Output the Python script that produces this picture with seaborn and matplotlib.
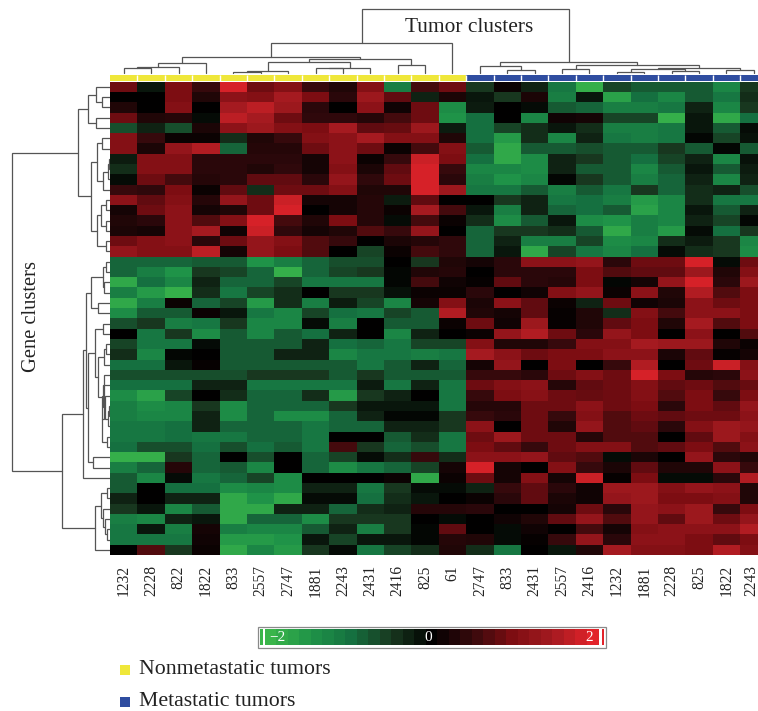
import numpy as np
import matplotlib
matplotlib.use('Agg')
import matplotlib.pyplot as plt
import seaborn as sns
from matplotlib.colors import LinearSegmentedColormap, ListedColormap
from matplotlib.patches import Rectangle
from matplotlib.transforms import ScaledTranslation

# tumour labels, left to right
nonmet_labels = ['1232', '2228', '822', '1822', '833', '2557', '2747', '1881', '2243', '2431', '2416', '825', '61']
met_labels = ['2747', '833', '2431', '2557', '2416', '1232', '1881', '2228', '825', '1822', '2243']

# log ratios, one line per gene
nonmet_values = [
    [0.9, -0.2, 1.0, 0.5, 1.9, 0.9, 1.1, 0.5, 0.3, 1.1, -1.2, 0.6, 0.9],
    [0, 0, 1.0, 0.3, 1.2, 1.1, 1.5, 1.0, 0.4, 1.4, 0.8, -0.3, 0.25],
    [0.3, 0, 1.1, 0, 1.5, 1.7, 1.4, 0.4, 0, 1.2, 0.15, 0.9, -1.4],
    [0.9, 0.3, 0.35, -0.1, 1.7, 1.5, 0.9, 0.45, 0.45, 0.35, 0.6, 0.9, -1.5],
    [-0.7, -0.3, -0.7, 0.25, 1.2, 1.4, 1.1, 1.0, 1.5, 0.8, 0.85, 1.4, -0.25],
    [1.1, 0.5, 0.1, 0.1, -0.4, 0.3, 0.5, 1.1, 1.2, 1.5, 1.1, 1.1, 0.3],
    [1.1, 0.25, 1.3, 1.6, -0.9, 0.35, 0.35, 0.9, 1.2, 0.9, 0.1, 0.6, 1.1],
    [-0.25, 1.1, 1.1, 0.4, 0.4, 0.4, 0.4, 0.2, 1.2, 0.1, 0.5, 1.8, 1.0],
    [-0.4, 1.1, 1.1, 0.4, 0.4, 0.3, 0.45, 0.2, 1.1, 0.25, 0.8, 1.9, 0.5],
    [-0.1, 0.9, 0.6, 0.35, 0.4, 0.8, 0.8, 0.4, 1.3, 0.45, 0.9, 1.9, 0.4],
    [0.5, 0.45, 1.0, 0.1, 0.8, -0.4, 0.9, 0.9, 1.1, 0.3, 0.3, 1.9, 1.4],
    [1.2, 0.8, 1.1, 0.35, 1.3, 0.9, 1.8, 0.2, 0.2, 0.35, -0.25, 0.8, 0],
    [0.2, 0.9, 1.2, 0.2, 0.3, 0.9, 1.9, 0, 0.2, 0.35, 0.1, 1.5, 0.6],
    [0.3, 0.4, 1.2, 0.7, 1.1, 1.9, 0.6, 0.3, 1.0, 0.35, -0.1, 0.6, 0.1],
    [0.25, 0.2, 1.2, 1.5, 0.15, 1.8, 0.45, 0.2, 0.3, 0.7, 0.5, 1.3, 0],
    [0.9, 1.1, 1.2, 0.4, 0.9, 1.3, 1.1, 0.7, 0.5, 0, 0.25, 0.35, 0.45],
    [1.3, 1.1, 1.1, 1.7, 0.2, 1.3, 1.0, 0.7, 0, -0.6, 0.1, 0.6, 0.45],
    [-0.9, -0.9, -0.9, -0.8, -0.8, -1.5, -1.2, -0.9, -0.7, -0.7, 0, -0.5, 0.3],
    [-0.9, -1.2, -1.5, -0.5, -0.6, -0.9, -1.9, -0.9, -0.6, -0.5, -0.05, 0.3, 0.35],
    [-1.8, -1.0, -1.3, -0.3, -0.9, -0.9, -0.6, -1.1, -1.1, -1.1, -0.05, 0.6, 0.15],
    [-1.2, -1.6, -1.9, -0.4, -1.1, -0.6, -0.4, 0, -0.5, -0.5, -0.15, 0.1, 0.1],
    [-1.8, -1.2, 0.1, -0.9, -0.6, -1.6, -0.4, -1.2, -0.25, -0.6, -1.3, 0.2, 1.1],
    [-1.4, -0.8, -0.8, 0.1, -0.2, -1.1, -1.3, -0.6, -1.0, -1.1, -0.6, -0.8, 1.6],
    [-0.7, -0.5, -1.2, -1.1, -0.5, -1.3, -1.3, -0.1, -1.2, 0, -0.8, -0.8, 0.1],
    [0, -1.1, -0.5, -1.4, -0.8, -1.3, -0.8, -1.0, -0.3, 0, -1.3, -0.3, 0],
    [-0.6, -1.1, -1.1, -0.1, -0.8, -0.8, -0.8, -0.3, -1.0, -0.9, -1.1, -0.6, -0.6],
    [-0.4, -1.3, -0.05, 0, -0.8, -0.8, -0.3, -0.3, -1.3, -1.1, -1.1, -1.2, -1.1],
    [-1.0, -1.0, -0.2, 0.05, -0.8, -0.8, -0.8, -0.8, -0.8, -1.1, -0.8, -0.3, -0.9],
    [-0.7, -0.7, -0.7, -0.7, -0.7, -0.5, -0.5, -0.5, -0.8, -0.5, -0.8, -0.8, -0.8],
    [-1.0, -1.0, -1.0, -0.3, -0.3, -1.1, -1.1, -1.1, -1.1, -0.25, -1.1, -0.3, -1.1],
    [-1.4, -1.7, -0.6, 0, -0.4, -0.9, -0.9, -0.4, -1.6, -0.5, -0.3, 0, -1.1],
    [-1.2, -1.4, -1.3, -0.5, -1.4, -0.9, -0.9, -0.9, -0.5, -0.2, -0.2, -0.2, -1.1],
    [-1.2, -1.3, -1.3, -0.3, -1.4, -0.9, -1.4, -1.4, -0.9, -0.3, -0.05, -0.05, -0.5],
    [-1.1, -1.1, -1.0, -0.3, -0.9, -0.9, -0.9, -1.1, -0.9, -0.9, -0.3, -0.3, -0.5],
    [-1.1, -1.1, -1.0, -1.1, -1.1, -0.9, -0.9, -1.1, 0, 0, -0.8, -0.4, -1.1],
    [-1.0, -0.7, -0.7, -1.0, -0.7, -1.0, -0.8, -1.1, 0.6, -0.5, -0.9, -0.7, -1.1],
    [-1.9, -1.9, -0.5, -0.9, 0, -0.7, 0, -0.9, -0.6, -0.1, -0.4, 0.5, -0.4],
    [-1.2, -0.9, 0.35, -0.9, -0.8, -1.3, 0, -0.9, -1.4, -1.1, -0.9, -0.6, 0.2],
    [-0.8, -1.3, -0.1, -1.1, -0.9, -0.6, -1.4, 0, 0, 0, 0.1, -1.8, 0.1],
    [-0.8, 0, -1.0, -1.0, -1.4, -1.3, -1.4, -0.3, -0.3, -1.1, -0.5, -0.1, -0.1],
    [-0.3, 0, -0.3, -0.3, -1.8, -1.5, -1.8, -0.1, -0.1, -1.0, -0.4, -0.2, 0],
    [-0.5, -0.2, -1.3, -0.8, -1.8, -1.8, -0.3, -0.3, -0.9, -0.4, -0.3, 0.35, 0.35],
    [-1.2, -1.3, -0.3, -0.2, -1.8, -0.9, -0.9, -1.4, -0.5, -0.5, -0.5, 0, -0.1],
    [-1.1, -0.2, -1.2, 0.2, -1.2, -1.3, -1.3, -0.8, -0.3, -1.2, -0.5, -0.05, 0.8],
    [-1.1, -1.1, -1.1, 0.15, -1.6, -1.6, -1.5, -0.2, -0.6, -0.2, -0.2, -0.05, 0.35],
    [0, 0.7, -0.5, 0.1, -1.8, -1.3, -1.6, -0.5, -0.1, -1.1, -0.6, -0.4, 0.3],
]
met_values = [
    [-0.5, 0.1, -0.3, -1.1, -1.9, -0.6, -0.8, -0.8, -0.8, -1.3, -0.5],
    [-0.2, -0.5, 0.25, -1.2, -0.2, -1.7, -1.0, -1.3, -0.8, -1.1, -0.4],
    [-0.25, 0, -0.1, -0.8, -0.9, -1.2, -1.2, -1.1, -0.3, -1.3, -0.5],
    [-1.0, 0, -1.3, 0.15, 0.2, -0.6, -0.6, -1.9, -0.2, -1.8, -1.0],
    [-1.0, -0.6, -0.4, -0.2, -0.4, -1.2, -1.2, -1.1, -0.2, -0.8, -0.1],
    [-1.0, -1.6, -0.4, -1.3, -0.3, -1.1, -1.2, -1.1, -0.05, -0.6, -0.15],
    [-0.8, -1.8, -0.8, -0.8, -0.7, -0.8, -0.8, -0.5, -0.8, -0.05, -0.8],
    [-1.0, -1.8, -1.4, -0.3, -0.5, -0.8, -1.0, -0.6, -0.3, -1.3, -0.15],
    [-1.3, -1.3, -1.4, -0.3, -0.8, -0.8, -1.3, -0.8, -0.2, -0.8, -0.25],
    [-1.2, -1.5, -1.3, -0.05, -0.5, -0.8, -1.2, -0.9, -0.3, -1.3, -0.3],
    [-1.1, -1.1, -0.8, -1.2, -0.8, -1.1, -0.5, -0.9, -0.4, -0.3, -0.7],
    [0, -0.5, -0.3, -1.1, -1.0, -1.2, -1.6, -1.3, -0.4, -1.1, -1.1],
    [-0.2, -1.2, -0.3, -0.9, -1.0, -0.8, -1.7, -1.3, -0.2, -0.8, -0.3],
    [-0.4, -1.4, -0.8, -0.2, -1.4, -1.5, -1.2, -1.3, -0.3, -0.6, -0.05],
    [-0.9, -0.5, -0.5, -0.4, -0.8, -1.8, -1.2, -1.6, -0.1, -1.0, -0.5],
    [-0.9, -0.3, -1.2, -1.2, -0.6, -1.4, -1.3, -0.4, -0.25, -0.5, -1.3],
    [-0.9, -0.2, -1.8, -0.6, -1.1, -1.3, -1.0, -0.1, -0.4, -0.5, -1.4],
    [0.2, 0.4, 1.2, 1.2, 1.3, 0.4, 0.9, 0.9, 1.9, -0.1, 0.9],
    [0, 0.4, 0.4, 0.4, 1.0, 0.7, 0.8, 0.8, 1.4, 0.3, 1.1],
    [0.05, 0.8, 0.4, 0.35, 1.0, -0.05, 0.2, 1.3, 1.9, 0.4, 1.4],
    [0.4, 0, 0.15, 1.1, 1.3, 0.1, 1.2, 0.3, 1.6, 0.7, 1.0],
    [0.25, 1.2, 0.8, 0.1, -0.3, 0.9, 0.15, 0.25, 1.2, 0.9, 1.0],
    [0.3, 0.2, 0.8, 0.05, 0.3, -0.4, 1.1, 0.6, 1.2, 1.2, 1.0],
    [0.9, 0.15, 1.4, 0.05, 0.3, 0.8, 1.0, 0.3, 1.5, 0.7, 1.0],
    [0.1, 1.3, 1.6, 0.9, 0.4, 1.3, 1.0, 0, 1.2, 0, 0.7],
    [1.1, 0.3, 0.3, 0.5, 1.1, 1.1, 1.5, 1.4, 1.4, 0.3, 0.1],
    [1.5, 1.2, 0.9, 1.0, 1.0, 1.2, 1.2, 0.25, 0.8, 0.05, 0.2],
    [0.2, 1.3, 0, 1.0, 0, 0.5, 1.6, 0, 0.9, 1.8, 1.1],
    [0.5, 0.5, 0.4, 0.9, 1.1, 0.9, 1.9, 1.0, 0.35, 0.4, 1.2],
    [0.9, 1.1, 1.2, 0.35, 0.8, 0.9, 1.1, 0.8, 0.9, 0.7, 0.85],
    [0.5, 1.0, 1.15, 0.9, 0.85, 0.9, 1.1, 0.7, 1.0, 0.5, 1.0],
    [0.35, 0.35, 0.9, 0.9, 1.2, 0.9, 1.0, 0.4, 1.0, 0.8, 1.3],
    [0.5, 0.4, 0.9, 0.5, 1.1, 0.7, 0.9, 0.8, 0.9, 0.9, 1.2],
    [1.2, 0, 0.9, 0.3, 1.3, 0.7, 0.8, 0.4, 1.1, 1.4, 1.3],
    [0.9, 1.4, 0.9, 0.9, 0.35, 0.7, 0.7, 0, 0.8, 1.4, 1.1],
    [1.0, 0.8, 0.5, 0.9, 1.1, 1.1, 0.7, 0.8, 1.0, 0.7, 1.2],
    [1.2, 1.2, 1.3, 0.8, 0.7, -0.1, 0.25, 0, 1.3, 0.4, 0.3],
    [1.9, 0.2, 0, 1.1, 0.5, 0.25, 0.8, 0.3, 0.3, 1.2, 0.5],
    [0.9, 0.2, 1.1, 0.2, 1.8, 0.05, 1.0, -0.1, -0.1, 0.4, 1.6],
    [-0.3, 0.5, 0.8, 0.4, 0.15, 1.4, 1.4, 1.1, 1.3, 1.2, 0.3],
    [0.1, 0.4, 0.8, 0.25, 0.15, 1.3, 1.4, 1.0, 1.0, 1.1, 0.3],
    [0.4, 0, 0, 0.2, 0.9, 0.4, 1.3, 1.2, 1.4, 0.5, 1.0],
    [0, 0.15, 0.3, 0.8, 1.3, 0.7, 1.3, 0.8, 1.4, 0.9, 1.3],
    [0, -0.1, 0.15, 0, 0.6, 0.2, 1.1, 1.2, 1.2, 1.2, 1.6],
    [0.3, -0.1, 0.05, 0.5, 1.3, 0.4, 1.2, 1.2, 1.0, 0.8, 1.0],
    [-0.4, -1.1, 0, -0.2, 0.3, 1.5, 1.1, 1.1, 1.0, 1.6, 1.1],
]

# clustering trees as (left, right, height); ints are leaves, height in picture pixels
col_tree = (
    (
        ((((0, 1, 68.3), 2, 66.7), 3, 62.7),
         ((((((4, 5, 71.5), 6, 70.7), ((7, 8, 67.7), 9, 67.5), 62.3)), (10, 11, 65), 59.3)),
         57.3),
        12, 43.3),
    (
        (13, (14, 15, 70), 65.7),
        ((16, 17, 69.3),
         (((18, 19, 72), (20, 21, 71.3), 69.3), (22, 23, 70.3), 68.3),
         65),
        61.7),
    9)
row_tree = (
    (
        ((0, (1, 2, 101.7), 96.3), (3, 4, 96.3), 88.3),
        (((5, 6, 101.7), (((7, 8, 109.3), 9, 108.3), 10, 102.7), 96.7),
         (((11, 12, 105.7), (13, 14, 105.7), 100.7), (15, 16, 105.7), 96.7),
         91),
        78),
    (
        ((((((17, 18, 105.7), (19, 20, 104), 103.3), (21, 22, 98.3), 90.7),
          (((23, 24, 103.3),
            (((25, 26, 106), 27, 104.3),
             (28, ((29, (30, ((31, 32, 109.3), 33, 108.3), 105), 103), (34, 35, 106.7), 101.7), 104),
             98.3),
            95),
           (36, 37, 93.3), 88.3),
          86),
         38, 83.3)),
        (((39, 40, 107.3), (41, (42, (43, 44, 107.3), 105), 103), 100.7), 45, 95),
        62.3),
    11.7)

line_color = '#555555'
text_color = '#222222'
W, H = 758, 711
cell_w, cell_h = 27.4, 10.29
left, top = 110, 81.7

cmap = LinearSegmentedColormap.from_list('gbr', ['#3ab54a', '#1f9348', '#157040', '#18381f', '#000000',
                                                 '#35090c', '#7c0d12', '#a31a20', '#e2232a'])
font = 'Liberation Serif'


def px_axes(x0, y0, w, h):
    # axes placed with picture pixels, y counted from the top
    ax = fig.add_axes([x0 / W, 1 - (y0 + h) / H, w / W, h / H])
    return ax


def draw_tree(node, ax, horizontal, leaf_level):
    # returns (centre, level) of the node and draws its bracket
    if isinstance(node, int):
        return node + 0.5, leaf_level
    a, la = draw_tree(node[0], ax, horizontal, leaf_level)
    b, lb = draw_tree(node[1], ax, horizontal, leaf_level)
    h = node[2]
    pos = [a, a, b, b]
    lev = [la, h, h, lb]
    if horizontal:
        ax.plot(pos, lev, color=line_color, lw=0.9, solid_joinstyle='miter')
    else:
        ax.plot(lev, pos, color=line_color, lw=0.9, solid_joinstyle='miter')
    return (a + b) / 2, h


sns.set_theme(style='white')
plt.rcParams['font.family'] = [font, 'DejaVu Serif']

fig = plt.figure(figsize=(W / 100, H / 100), dpi=100, facecolor='white')

values = np.hstack([np.array(nonmet_values), np.array(met_values)])
n_rows, n_cols = values.shape
labels = nonmet_labels + met_labels

# main heatmap (runs a bit past the right edge, as in the source picture)
ax = px_axes(left, top, cell_w * n_cols, cell_h * n_rows)
sns.heatmap(values, ax=ax, cmap=cmap, vmin=-2, vmax=2, cbar=False,
            xticklabels=labels, yticklabels=False)
ax.tick_params(axis='x', length=0, pad=7.3, labelsize=11.2, labelcolor=text_color, rotation=90)
# last label pulled in so it stays inside the picture
last = ax.get_xticklabels()[-1]
last.set_transform(last.get_transform() + ScaledTranslation(-3 / 100, 0, fig.dpi_scale_trans))

# tumour class strip
groups = np.array([[0] * len(nonmet_labels) + [1] * len(met_labels)])
ax_strip = px_axes(left, 75, cell_w * n_cols, 5.8)
sns.heatmap(groups, ax=ax_strip, cmap=ListedColormap(['#efe73a', '#2f4da0']), cbar=False,
            xticklabels=False, yticklabels=False)
ax_strip.vlines(np.arange(1, n_cols), 0, 1, color='white', lw=1)

# dendrograms
ax_top = px_axes(left, 0, cell_w * n_cols, 75)
ax_top.set_xlim(0, n_cols)
ax_top.set_ylim(75, 0)
ax_top.axis('off')
draw_tree(col_tree, ax_top, True, 73)

ax_left = px_axes(0, top, left, cell_h * n_rows)
ax_left.set_xlim(0, left)
ax_left.set_ylim(n_rows, 0)
ax_left.axis('off')
draw_tree(row_tree, ax_left, False, 110)

# titles
fig.text(405 / W, 1 - 27.5 / H, 'Tumor clusters', fontsize=15.4, color=text_color, va='center', ha='left')
fig.text(31.5 / W, 1 - 316 / H, 'Gene clusters', fontsize=14.8, color=text_color, va='center', ha='center',
         rotation=90)

# colour key
ax_frame = fig.add_axes([0, 0, 1, 1], facecolor='none')
ax_frame.set_xlim(0, W)
ax_frame.set_ylim(H, 0)
ax_frame.axis('off')
ax_frame.add_patch(Rectangle((258, 627), 347.5, 20.5, fc='white', ec='#8a8a8a', lw=0.9))
ax_frame.add_patch(Rectangle((260, 629), 2.5, 16, fc='#3ab54a', ec='none'))
ax_frame.add_patch(Rectangle((601.5, 629), 2.5, 16, fc='#e2232a', ec='none'))
key_steps = np.linspace(-2, 2, 29).reshape(1, -1)
ax_key = px_axes(264.5, 629, 334, 16)
sns.heatmap(key_steps, ax=ax_key, cmap=cmap, vmin=-2, vmax=2, cbar=False,
            xticklabels=False, yticklabels=False)
fig.text(277 / W, 1 - 637.5 / H, '\u22122', fontsize=11, color='white', va='center', ha='center')
fig.text(428 / W, 1 - 637.5 / H, '0', fontsize=11, color='white', va='center', ha='center')
fig.text(589 / W, 1 - 637.5 / H, '2', fontsize=11, color='white', va='center', ha='center')

# legend
ax_frame.add_patch(Rectangle((120, 665), 10, 10, fc='#efe73a', ec='none'))
ax_frame.add_patch(Rectangle((120, 697), 10, 10, fc='#2f4da0', ec='none'))
fig.text(139 / W, 1 - 669.5 / H, 'Nonmetastatic tumors', fontsize=15.7, color=text_color, va='center', ha='left')
fig.text(139 / W, 1 - 701.5 / H, 'Metastatic tumors', fontsize=15.7, color=text_color, va='center', ha='left')

fig.savefig('out.png', dpi=100)
